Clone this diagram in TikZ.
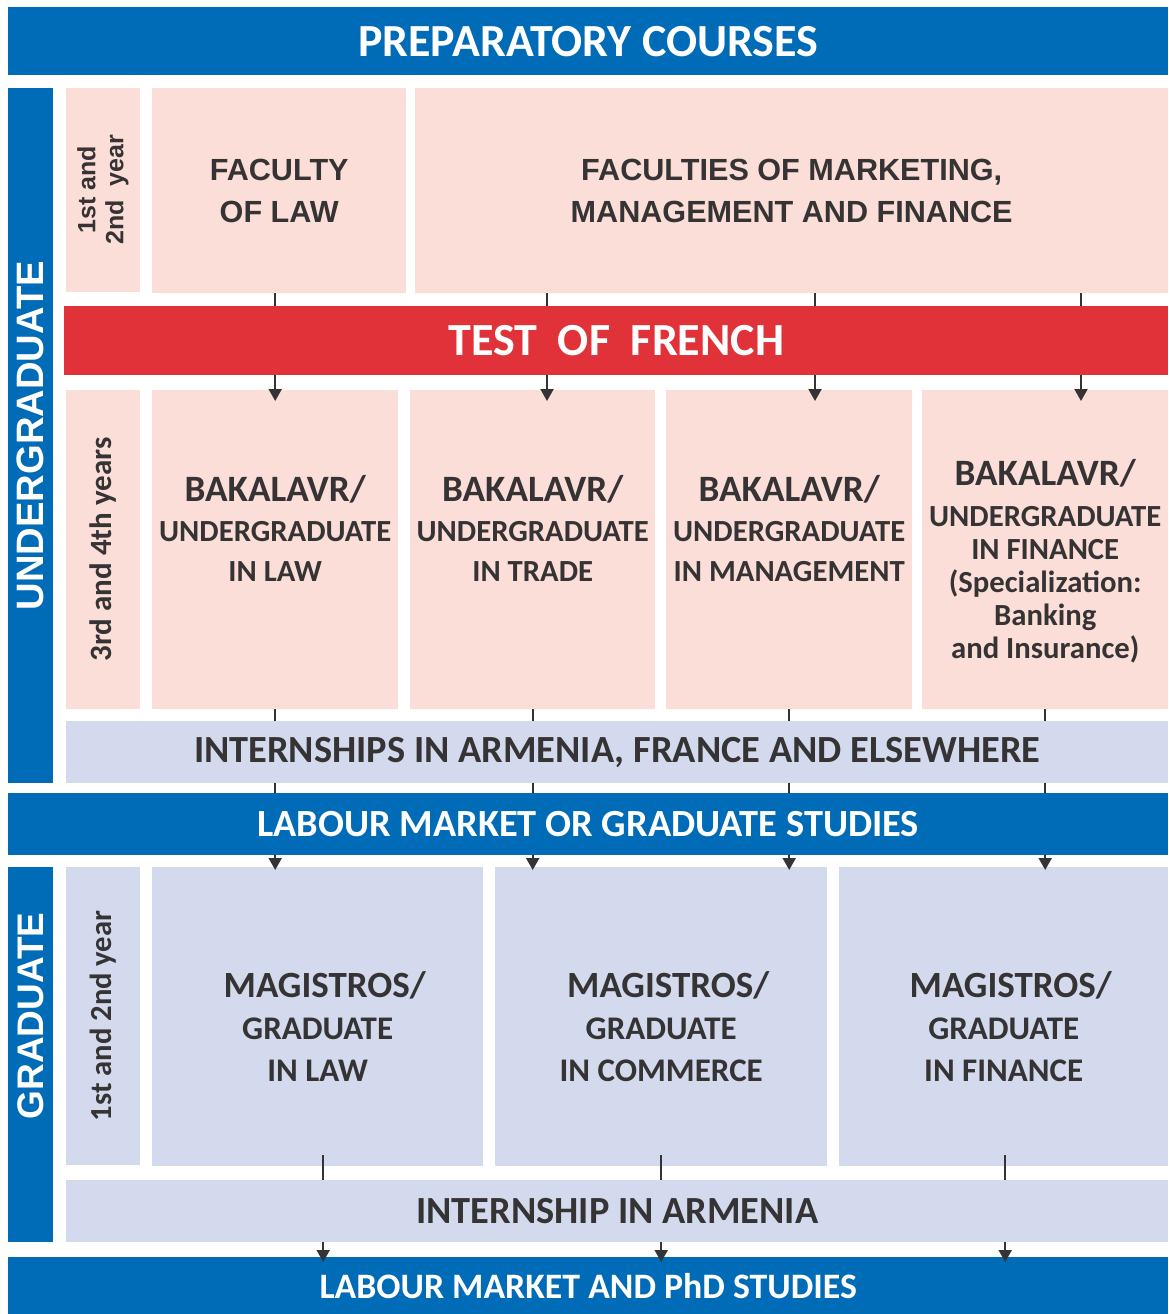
\documentclass[tikz,border=0pt]{standalone}
\usepackage{fontspec}
\setmainfont{Carlito}
\newfontfamily\arialfont{Liberation Sans}
\usetikzlibrary{arrows.meta}
\definecolor{ablue}{RGB}{0,107,182}
\definecolor{ared}{RGB}{225,49,57}
\definecolor{apink}{RGB}{251,222,215}
\definecolor{alilac}{RGB}{212,218,237}
\definecolor{atext}{RGB}{54,51,52}

\begin{document}
\begin{tikzpicture}[x=1pt, y=-1pt,
	cell/.style={anchor=north west, inner sep=0pt, align=center, text=atext},
	pink/.style={cell, fill=apink},
	lilac/.style={cell, fill=alilac},
	band/.style={cell, fill=ablue, text=white},
	yearbox/.style={rotate=90, anchor=center, minimum height=74pt},
	big/.style={font=\bfseries\fontsize{46}{54}\selectfont},
	mid/.style={font=\bfseries\fontsize{38.4}{44}\selectfont},
	side/.style={text=white, inner sep=0pt, rotate=90, font=\arialfont\bfseries\fontsize{37}{44}\selectfont},
	label/.style={align=center, inner sep=0pt, text=atext},
	flow/.style={draw=atext, line width=2pt, -{Triangle[width=13pt, length=12pt]}}]

\useasboundingbox (0,0) rectangle (1168,1314);

%% top banner
\node [band, big, minimum width=1160pt, minimum height=68pt] (prep) at (8,7) {PREPARATORY COURSES};

%% undergraduate: first cycle
\node [band, minimum width=45pt, minimum height=695pt] (ug) at (8,88) {};
\node [side, font=\arialfont\bfseries\fontsize{38.2}{44}\selectfont] (ugtxt) at (ug.center) {UNDERGRADUATE};
\node [pink, yearbox, minimum width=204pt, font=\arialfont\bfseries\fontsize{25}{28}\selectfont]%
			(yr1) at (103,190) {1st and\\2nd\ \ year};
\node [pink, minimum width=254pt, minimum height=205pt, font=\arialfont\bfseries\fontsize{30.6}{42}\selectfont]%
			(fl) at (152,88) {FACULTY\\OF LAW};
\node [pink, minimum width=753pt, minimum height=205pt, font=\arialfont\bfseries\fontsize{30.6}{42}\selectfont]%
			(fmm) at (415,88) {FACULTIES OF MARKETING,\\MANAGEMENT AND FINANCE};

%% undergraduate: bakalavr
\node [pink, yearbox, minimum width=319pt, font=\bfseries\fontsize{31}{36}\selectfont]%
			(yr2) at (103,549.5) {3rd and 4th years};
\node [pink, minimum width=246pt, minimum height=319pt] (bkl) at (152,390) {};
\node [pink, minimum width=245pt, minimum height=319pt] (bkt) at (410,390) {};
\node [pink, minimum width=246pt, minimum height=319pt] (bkm) at (666,390) {};
\node [pink, minimum width=246pt, minimum height=319pt] (bkf) at (922,390) {};
\node [label, font=\bfseries\fontsize{30.7}{40}\selectfont] (bkltxt) at ([yshift=21pt]bkl.center)%
			{{\fontsize{37.2}{40}\selectfont BAKALAVR/}\\UNDERGRADUATE\\IN LAW};
\node [label, font=\bfseries\fontsize{30.7}{40}\selectfont] (bkttxt) at ([yshift=21pt]bkt.center)%
			{{\fontsize{37.2}{40}\selectfont BAKALAVR/}\\UNDERGRADUATE\\IN TRADE};
\node [label, font=\bfseries\fontsize{30.7}{40}\selectfont] (bkmtxt) at ([yshift=21pt]bkm.center)%
			{{\fontsize{37.2}{40}\selectfont BAKALAVR/}\\UNDERGRADUATE\\IN MANAGEMENT};
\node [label, font=\bfseries\fontsize{30.7}{33}\selectfont] (bkftxt) at ([yshift=-12pt]bkf.center)%
			{{\fontsize{37.2}{40}\selectfont BAKALAVR/}\\[8pt]UNDERGRADUATE\\IN FINANCE\\(Specialization:\\Banking\\and Insurance)};

%% graduate
\node [band, minimum width=45pt, minimum height=375pt] (gr) at (8,867) {};
\node [lilac, yearbox, minimum width=298pt, font=\bfseries\fontsize{30.6}{36}\selectfont]%
			(yr3) at (103,1016) {1st and 2nd year};
\node [side] (grtxt) at (gr.center |- yr3.center) {GRADUATE};
\node [lilac, minimum width=331pt, minimum height=299pt] (mgl) at (152,867) {};
\node [lilac, minimum width=332pt, minimum height=299pt] (mgc) at (495,867) {};
\node [lilac, minimum width=329pt, minimum height=299pt] (mgf) at (839,867) {};
\node [label, font=\bfseries\fontsize{33}{42}\selectfont] (mgltxt) at ([yshift=-10pt]mgl.center)%
			{{\fontsize{37}{42}\selectfont\hspace*{14pt}MAGISTROS/}\\GRADUATE\\IN LAW};
\node [label, font=\bfseries\fontsize{33}{42}\selectfont] (mgctxt) at ([yshift=-10pt]mgc.center)%
			{{\fontsize{37}{42}\selectfont\hspace*{14pt}MAGISTROS/}\\GRADUATE\\IN COMMERCE};
\node [label, font=\bfseries\fontsize{33}{42}\selectfont] (mgftxt) at ([yshift=-10pt]mgf.center)%
			{{\fontsize{37}{42}\selectfont\hspace*{14pt}MAGISTROS/}\\GRADUATE\\IN FINANCE};
\node [band, font=\bfseries\fontsize{35.8}{44}\selectfont, minimum width=1160pt, minimum height=57pt]%
			(phd) at (8,1257) {LABOUR MARKET AND PhD STUDIES};

%% arrows (the bands are laid over them)
\draw [flow, shorten >=-11pt] (bkl.north |- fl.south) -- (bkl.north);
\foreach \dx/\to in {132/bkt, 400/bkm, 666/bkf}
	\draw [flow, shorten >=-11pt] ([xshift=\dx pt]fmm.south west) -- ([xshift=\dx pt]fmm.south west |- \to.north);
\foreach \from/\to in {bkl/mgl, bkt/mgc, bkm/mgc, bkf/mgf}
	\draw [flow, shorten >=-3pt] (\from.south) -- (\from.south |- \to.north);
\foreach \from/\dx in {mgl/5.5, mgc/0, mgf/1.5}
	\draw [flow, shorten <=-11pt, shorten >=-5pt] ([xshift=\dx pt]\from.south) -- ([xshift=\dx pt]\from.south |- phd.north);

%% bands
\node [cell, big, fill=ared, text=white, minimum width=1104pt, minimum height=69pt]%
			(test) at (64,306) {TEST\ \ OF\ \ FRENCH};
\node [lilac, mid, minimum width=1102pt, minimum height=62pt] (int1) at (66,721) {INTERNSHIPS IN ARMENIA, FRANCE AND ELSEWHERE};
\node [band, mid, minimum width=1160pt, minimum height=62pt] (lab) at (8,793) {LABOUR MARKET OR GRADUATE STUDIES};
\node [lilac, mid, minimum width=1102pt, minimum height=62pt] (int2) at (66,1180) {INTERNSHIP IN ARMENIA};
\end{tikzpicture}
\end{document}
